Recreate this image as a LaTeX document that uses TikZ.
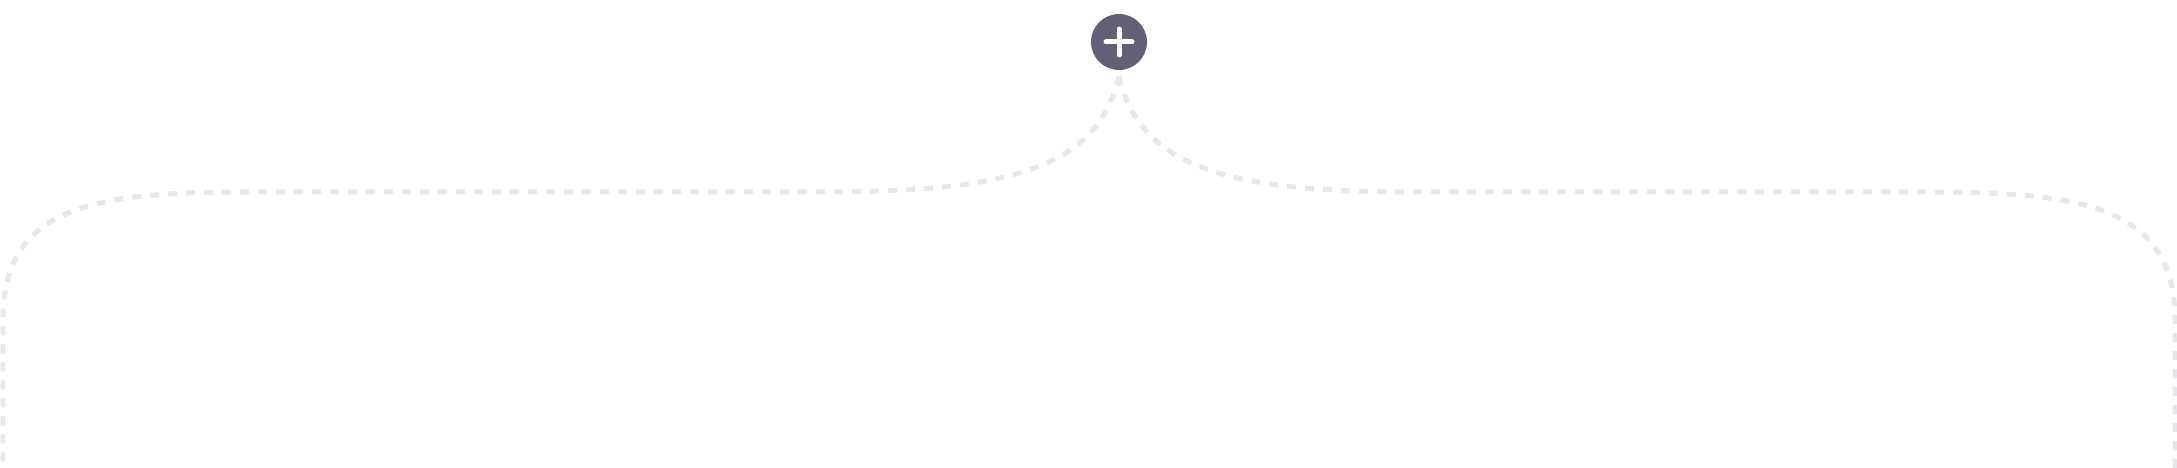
\documentclass[tikz,border=0pt]{standalone}
\usepackage{tikz}
\usetikzlibrary{arrows.meta,positioning}
\definecolor{btncol}{RGB}{98,96,117}
\definecolor{linkcol}{RGB}{230,231,234}

\begin{document}
\begin{tikzpicture}[x=0.1mm,y=-0.1mm,
  link/.style={linkcol,line width=0.5mm,dash pattern=on 0.9mm off 0.9mm}]
\useasboundingbox (0,0) rectangle (2177,468);
\node[circle,fill=btncol,minimum size=5.6mm,inner sep=0pt] (add) at (1119,42) {};
\draw[white,line width=0.5mm,line cap=round] ([xshift=-1.3mm]add.center) -- ([xshift=1.3mm]add.center);
\draw[white,line width=0.5mm,line cap=round] ([yshift=-1.3mm]add.center) -- ([yshift=1.3mm]add.center);
\coordinate (leftend) at (3,470);
\coordinate (rightend) at (2175,470);
% branches down to both sides
\draw[link] ([yshift=-0.6mm]add.south) .. controls (1097,170) and (1005,192) .. (820,192)
  -- (250,192) .. controls (95,192) and (3,205) .. (3,320) -- (leftend);
\draw[link] ([yshift=-0.6mm]add.south) .. controls (1141,170) and (1233,192) .. (1418,192)
  -- (1925,192) .. controls (2080,192) and (2175,205) .. (2175,320) -- (rightend);
\end{tikzpicture}
\end{document}
